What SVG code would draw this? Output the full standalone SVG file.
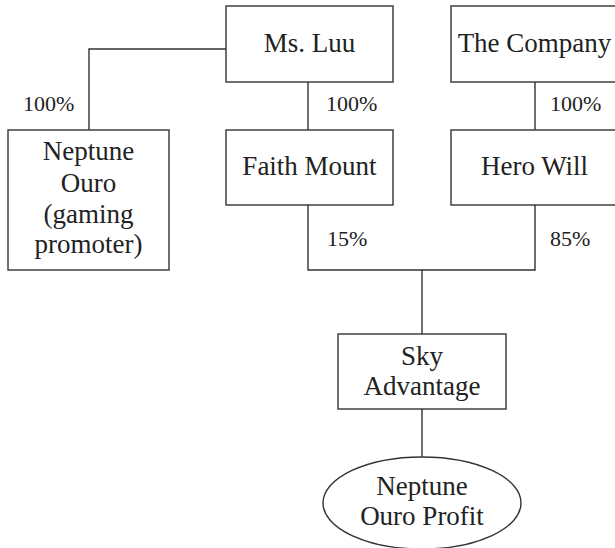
<svg xmlns="http://www.w3.org/2000/svg" width="615" height="548" viewBox="0 0 615 548">
<style>
.box{fill:#fff;stroke:#333;stroke-width:1.4}
.ln{fill:none;stroke:#333;stroke-width:1.4}
.t{font-family:"Liberation Serif","Times New Roman",serif;font-size:27px;fill:#222;text-anchor:middle}
.p{font-family:"Liberation Serif","Times New Roman",serif;font-size:22px;fill:#222}
</style>
<rect width="615" height="548" fill="#fff"/>
<g id="connectors">
<path class="ln" d="M226 49H89V130"/>
<path class="ln" d="M308 82V130"/>
<path class="ln" d="M535 82V130"/>
<path class="ln" d="M308 205V270H535V205"/>
<path class="ln" d="M422 270V334"/>
<path class="ln" d="M422 409V457"/>
<text class="p" x="23" y="111">100%</text>
<text class="p" x="326" y="111">100%</text>
<text class="p" x="550" y="111">100%</text>
<text class="p" x="327" y="246">15%</text>
<text class="p" x="550" y="246">85%</text>
</g>
<g id="ms-luu">
<rect class="box" x="226" y="6" width="167" height="76"/>
<text class="t" x="309.5" y="52">Ms. Luu</text>
</g>
<g id="the-company">
<rect class="box" x="451" y="6" width="170" height="76"/>
<text class="t" x="534.5" y="52">The Company</text>
</g>
<g id="neptune-ouro">
<rect class="box" x="8" y="130" width="161" height="140"/>
<text class="t" x="88.5" y="160">Neptune</text>
<text class="t" x="88.5" y="192">Ouro</text>
<text class="t" x="88.5" y="223">(gaming</text>
<text class="t" x="88.5" y="253">promoter)</text>
</g>
<g id="faith-mount">
<rect class="box" x="226" y="130" width="167" height="75"/>
<text class="t" x="309.5" y="175">Faith Mount</text>
</g>
<g id="hero-will">
<rect class="box" x="451" y="130" width="170" height="75"/>
<text class="t" x="534.5" y="175">Hero Will</text>
</g>
<g id="sky-advantage">
<rect class="box" x="338" y="334" width="168" height="75"/>
<text class="t" x="422" y="365">Sky</text>
<text class="t" x="422" y="395">Advantage</text>
</g>
<g id="neptune-ouro-profit">
<ellipse class="box" cx="422" cy="503" rx="99" ry="46"/>
<text class="t" x="422" y="495">Neptune</text>
<text class="t" x="422" y="525">Ouro Profit</text>
</g>
</svg>
